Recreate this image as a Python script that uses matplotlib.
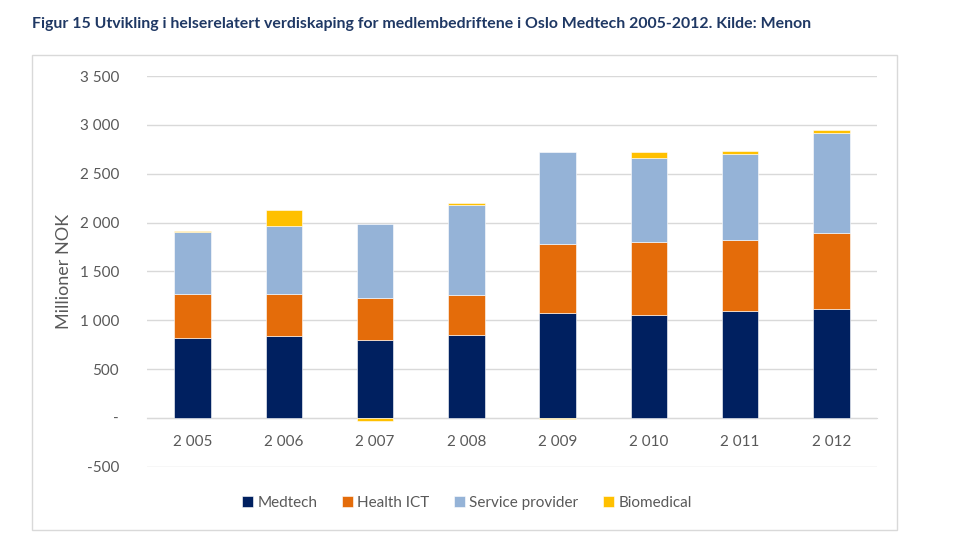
import matplotlib
matplotlib.use("Agg")
import matplotlib.pyplot as plt
from matplotlib.patches import Rectangle
from matplotlib.ticker import FuncFormatter
import numpy as np

plt.rcParams['font.family'] = ['Lato', 'DejaVu Sans']

years = ["2 005", "2 006", "2 007", "2 008", "2 009", "2 010", "2 011", "2 012"]
medtech = [820, 836, 802, 850, 1069, 1055, 1099, 1110]
health_ict = [446, 430, 428, 410, 714, 741, 718, 786]
service = [632, 701, 750, 918, 944, 864, 888, 1024]
biomedical = [20, 164, -30, 25, -12, 65, 26, 31]

series = [("Medtech", medtech, "#002060"),
          ("Health ICT", health_ict, "#E46C0A"),
          ("Service provider", service, "#95B3D7"),
          ("Biomedical", biomedical, "#FFC000")]

fig = plt.figure(figsize=(9.6, 5.5), dpi=100)
fig.patches.append(Rectangle((32/960, 1-530/550), 865/960, 475/550, transform=fig.transFigure,
                             fill=False, edgecolor="#D9D9D9", lw=1))
fig.text(32/960, 1-24/550, "Figur 15 Utvikling i helserelatert verdiskaping for medlembedriftene i Oslo Medtech 2005-2012. Kilde: Menon",
         fontsize=11.4, fontweight='bold', color="#1F3864", va='center', ha='left')

ax = fig.add_axes([147/960, 1-466.7/550, 730/960, 390.7/550])
x = np.arange(len(years))
pos = np.zeros(len(years))
neg = np.zeros(len(years))
for name, vals, col in series:
    vals = np.array(vals, dtype=float)
    # negative values stack downward from zero, as in Excel
    bottom = np.where(vals >= 0, pos, neg)
    ax.bar(x, vals, 0.4, bottom=bottom, color=col, label=name, edgecolor='white', linewidth=0.4, zorder=3)
    pos = pos + np.where(vals >= 0, vals, 0)
    neg = neg + np.where(vals < 0, vals, 0)

ax.set_xlim(-0.5, len(years) - 0.5)
ax.set_ylim(-500, 3500)
ax.set_yticks(range(-500, 3501, 500))
ax.yaxis.set_major_formatter(FuncFormatter(lambda v, p: "-" if v == 0 else f"{int(v):,}".replace(",", " ")))
ax.grid(axis='y', color="#D9D9D9", lw=1, zorder=0)
for s in ['top', 'right', 'left']:
    ax.spines[s].set_visible(False)
ax.spines['bottom'].set_position(('data', 0))
ax.spines['bottom'].set_color("#D9D9D9")
ax.set_xticks(x)
ax.set_xticklabels(years)
ax.tick_params(axis='both', length=0, labelsize=11, labelcolor="#595959")
ax.tick_params(axis='x', pad=12)
ax.tick_params(axis='y', pad=20)
ax.set_ylabel("Millioner NOK", fontsize=13, color="#595959", labelpad=6)

ax.legend(loc='center', bbox_to_anchor=(467/960, 1-503/550), bbox_transform=fig.transFigure,
          ncol=4, frameon=False, fontsize=11, labelcolor="#595959",
          handlelength=0.7, handleheight=0.7, handletextpad=0.3, columnspacing=1.6)

fig.savefig("out.png", dpi=100)
